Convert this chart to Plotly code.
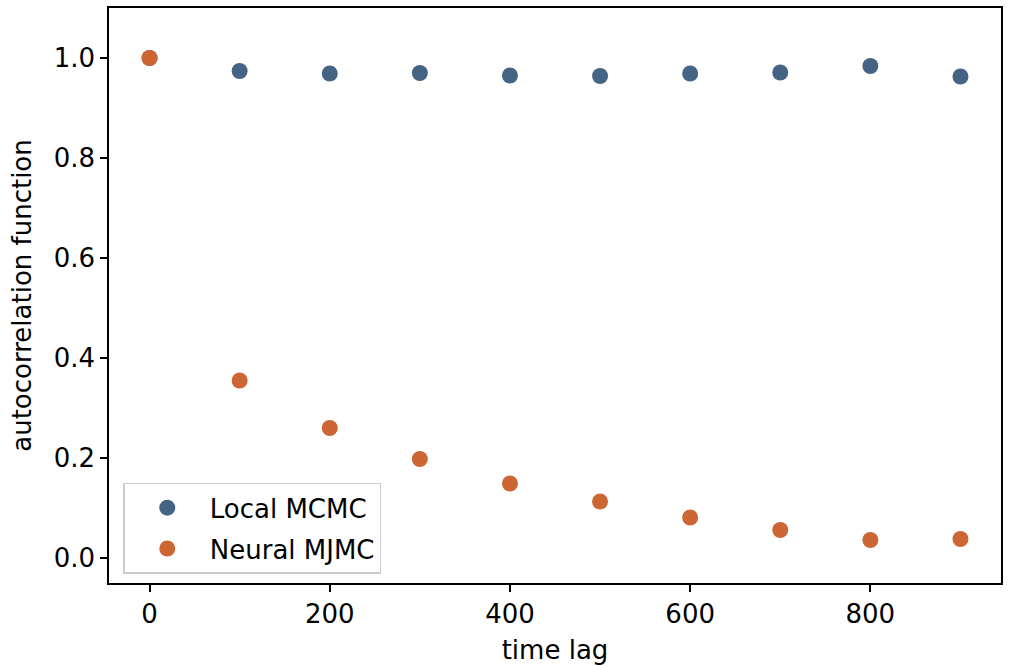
import plotly.graph_objects as go

time_lag = [0, 100, 200, 300, 400, 500, 600, 700, 800, 900]
local_mcmc = [1.0, 0.974, 0.969, 0.970, 0.965, 0.964, 0.969, 0.971, 0.984, 0.963]
neural_mjmc = [1.0, 0.355, 0.260, 0.198, 0.149, 0.113, 0.081, 0.056, 0.036, 0.038]

blue = "#456383"
orange = "#cd6635"
font = "DejaVu Sans"
fs = 26

fig = go.Figure()
fig.add_trace(go.Scatter(x=time_lag, y=local_mcmc, mode="markers", name="Local MCMC",
                         legendgroup="a",
                         marker=dict(color=blue, size=16, line=dict(width=0))))
fig.add_trace(go.Scatter(x=time_lag, y=neural_mjmc, mode="markers", name="Neural MJMC",
                         legendgroup="b",
                         marker=dict(color=orange, size=16, line=dict(width=0))))

axis_common = dict(showline=True, linecolor="black", linewidth=1.6, mirror=True,
                   ticks="outside", ticklen=7, tickwidth=1.6, tickcolor="black",
                   showgrid=False, zeroline=False,
                   tickfont=dict(family=font, size=fs, color="black"))

fig.update_layout(
    width=1012, height=666,
    margin=dict(l=109, r=11, t=6, b=80),
    paper_bgcolor="white", plot_bgcolor="white",
    font=dict(family=font, size=fs, color="black"),
    xaxis=dict(range=[-45, 945], tickvals=[0, 200, 400, 600, 800],
               title=dict(text="time lag", standoff=13, font=dict(family=font, size=fs)),
               **axis_common),
    yaxis=dict(range=[-0.05, 1.1], tickvals=[0.0, 0.2, 0.4, 0.6, 0.8, 1.0],
               tickformat=".1f",
               title=dict(text="autocorrelation function", standoff=15, font=dict(family=font, size=fs)),
               **axis_common),
    legend=dict(x=0.016, y=0.016, xanchor="left", yanchor="bottom",
                bgcolor="rgba(255,255,255,0.8)", bordercolor="#cccccc", borderwidth=1.5,
                font=dict(family=font, size=fs), itemsizing="trace", itemwidth=75,
                traceorder="grouped", tracegroupgap=4),
    showlegend=True,
)

fig.write_html("out.html")
